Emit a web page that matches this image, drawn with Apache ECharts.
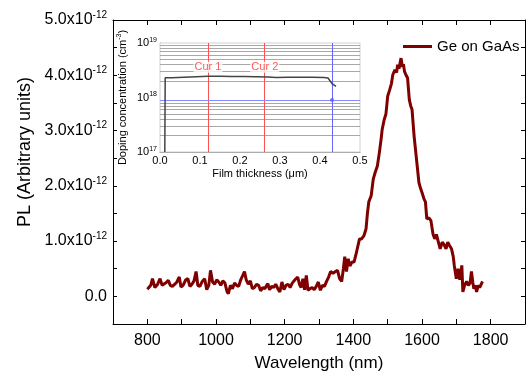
<!DOCTYPE html>
<html><head><meta charset="utf-8">
<script src="https://cdn.jsdelivr.net/npm/echarts@6/dist/echarts.min.js"></script>
<style>html,body{margin:0;padding:0;background:#fff}#c{width:528px;height:377px}</style>
</head><body><div id="c"></div>
<script>
// Main PL spectrum (wavelength in nm, PL in units of 1e-12)
var wavelength = [800,805,810,815,822,830,837,843,848,855,861,867,873,880,886,893,898,904,912,918,924,930,936,942,947,953,960,967,973,979,984,990,996,1002,1008,1014,1020,1026,1032,1036,1042,1048,1054,1060,1066,1072,1078,1083,1088,1094,1100,1106,1112,1118,1124,1130,1136,1142,1151,1156,1162,1168,1174,1180,1186,1192,1198,1204,1210,1216,1222,1230,1238,1243,1248,1253,1258,1263,1268,1274,1280,1286,1292,1298,1304,1310,1316,1322,1328,1334,1341,1348,1354,1360,1366,1371,1375,1380,1385,1390,1396,1402,1407,1412,1418,1424,1431,1437,1441,1445,1452,1458,1464,1470,1476,1481,1484,1490,1495,1500,1506,1511,1515,1521,1526,1529,1533,1536,1539,1543,1546,1549,1553,1558,1563,1567,1571,1577,1582,1585,1591,1596,1600,1606,1610,1614,1620,1626,1632,1637,1642,1647,1653,1659,1664,1670,1675,1680,1686,1691,1694,1700,1705,1710,1716,1719,1724,1730,1735,1740,1744,1748,1751,1755,1759,1764,1768,1774,1776];
var plValues = [0.13,0.11,0.20,0.32,0.16,0.22,0.32,0.20,0.18,0.25,0.29,0.20,0.18,0.22,0.26,0.35,0.17,0.20,0.30,0.32,0.18,0.22,0.28,0.45,0.20,0.18,0.27,0.32,0.12,0.20,0.47,0.26,0.22,0.30,0.26,0.20,0.28,0.24,0.09,0.05,0.20,0.14,0.24,0.20,0.18,0.30,0.38,0.45,0.30,0.22,0.28,0.14,0.16,0.22,0.20,0.10,0.16,0.14,0.23,0.12,0.18,0.16,0.22,0.14,0.08,0.26,0.12,0.20,0.22,0.16,0.24,0.30,0.35,0.22,0.16,0.32,0.12,0.38,0.11,0.14,0.16,0.12,0.18,0.26,0.11,0.20,0.18,0.27,0.35,0.45,0.42,0.45,0.47,0.32,0.27,0.50,0.72,0.45,0.68,0.55,0.62,0.62,0.74,0.74,1.04,1.04,1.10,1.22,1.50,1.71,1.82,2.12,2.25,2.36,2.61,2.85,3.02,3.20,3.30,3.62,3.74,3.85,4.01,4.10,4.05,4.19,4.12,4.22,4.31,4.15,4.20,4.07,4.01,3.95,3.56,3.45,3.38,2.90,2.60,2.42,2.06,1.95,1.88,1.76,1.71,1.40,1.42,1.37,1.13,1.04,1.12,1.00,0.86,0.98,0.94,0.86,0.98,0.92,0.86,0.72,0.56,0.32,0.50,0.30,0.56,0.08,0.20,0.27,0.20,0.24,0.45,0.25,0.14,0.20,0.08,0.20,0.16,0.24,0.27];
var seriesName = 'Ge on GaAs';
var xTickLabels = [800, 1000, 1200, 1400, 1600, 1800];
var yTickLabels = [0, 1, 2, 3, 4, 5];

// Inset: doping profile
var thickness = [0.012,0.013,0.03,0.06,0.09,0.12,0.15,0.18,0.21,0.24,0.27,0.29,0.32,0.35,0.38,0.41,0.42,0.425,0.43,0.435,0.44];
var doping = [1e17,2.3e18,2.3e18,2.35e18,2.4e18,2.45e18,2.45e18,2.42e18,2.42e18,2.4e18,2.38e18,2.33e18,2.36e18,2.35e18,2.35e18,2.33e18,2.28e18,2.1e18,1.8e18,1.7e18,1.6e18];
var cursorX = [0.12, 0.262];
var cursorNames = ['Cur 1', 'Cur 2'];
var cursorLabelY = 3.6e18;
var blueCursor = [0.43, 9e17];

var minorGrid = [];
[1e17, 1e18].forEach(function (d) { for (var k = 2; k <= 9; k++) minorGrid.push(k * d); });

var chart = echarts.init(document.getElementById('c'));
var FONT = 'Liberation Sans, Arial, sans-serif';
var black = '#000';
var supRich = {
  a: { fontSize: 16, fontFamily: FONT, color: black },
  s: { fontSize: 10, fontFamily: FONT, color: black, padding: [0, 0, 10, 0] }
};
var insetRich = {
  b: { fontSize: 11, fontFamily: FONT, color: black },
  s: { fontSize: 7, fontFamily: FONT, color: black, padding: [0, 0, 6, 0] }
};
function isIn(arr, v) { return arr.some(function (t) { return Math.abs(t - v) < 1e-6; }); }
var axLine = { show: true, onZero: false, lineStyle: { color: black, width: 1 } };

chart.setOption({
  animation: false,
  backgroundColor: '#fff',
  textStyle: { fontFamily: FONT },
  grid: [
    { left: 113, right: 3, top: 20, bottom: 52, show: false },
    { left: 160, right: 168, top: 43, bottom: 225, show: true, backgroundColor: '#fff', borderColor: '#d0d0d0', borderWidth: 1, z: 5 }
  ],
  legend: {
    data: [seriesName], left: 403, top: 39, padding: 0, icon: 'rect', itemWidth: 29, itemHeight: 3, itemGap: 5,
    textStyle: { fontSize: 15, color: black, fontFamily: FONT }
  },
  graphic: [{
    type: 'text', x: 25, y: 152, rotation: Math.PI / 2,
    style: { text: 'PL (Arbitrary units)', fontSize: 18, fontFamily: FONT, fill: black, align: 'center', verticalAlign: 'middle' }
  }],
  xAxis: [
    { gridIndex: 0, type: 'value', min: 700, max: 1900, interval: 100, position: 'bottom',
      axisLine: axLine,
      axisTick: { inside: true, length: 5, lineStyle: { color: black } },
      axisLabel: { fontSize: 16, color: black, margin: 9, fontFamily: FONT,
        formatter: function (v) { return isIn(xTickLabels, v) ? String(Math.round(v)) : ''; } },
      splitLine: { show: false },
      name: 'Wavelength (nm)', nameLocation: 'middle', nameGap: 31,
      nameTextStyle: { fontSize: 17, color: black, fontFamily: FONT } },
    { gridIndex: 0, type: 'value', min: 700, max: 1900, interval: 100, position: 'top',
      axisLine: axLine,
      axisTick: { inside: true, length: 5, lineStyle: { color: black } },
      axisLabel: { show: false }, splitLine: { show: false } },
    { gridIndex: 1, type: 'value', min: 0, max: 0.5, interval: 0.1,
      axisLine: { show: true, onZero: false, lineStyle: { color: '#888', width: 1 } },
      axisTick: { show: false },
      axisLabel: { fontSize: 11, color: black, margin: 3, fontFamily: FONT, formatter: function (v) { return v.toFixed(1); } },
      splitLine: { show: false },
      name: 'Film thickness (\u03bcm)', nameLocation: 'middle', nameGap: 16,
      nameTextStyle: { fontSize: 11, color: black, fontFamily: FONT } }
  ],
  yAxis: [
    { gridIndex: 0, type: 'value', min: -0.5, max: 5, interval: 0.5,
      axisLine: axLine,
      axisTick: { inside: true, length: 4, lineStyle: { color: black } },
      axisLabel: { margin: 6, rich: supRich, formatter: function (v) {
        if (!isIn(yTickLabels, v)) return '';
        var t = Math.round(v);
        if (t === 0) return '{a|0.0}';
        return '{a|' + t.toFixed(1) + 'x10}{s|-12}';
      } },
      splitLine: { show: false } },
    { gridIndex: 0, type: 'value', min: -0.5, max: 5, interval: 0.5, position: 'right',
      axisLine: axLine,
      axisTick: { inside: true, length: 4, lineStyle: { color: black } },
      axisLabel: { show: false }, splitLine: { show: false } },
    { gridIndex: 1, type: 'log', logBase: 10, min: 1e17, max: 1e19,
      axisLine: { show: true, onZero: false, lineStyle: { color: '#888', width: 1 } },
      axisTick: { show: false },
      axisLabel: { margin: 3, rich: insetRich, formatter: function (v) {
        return '{b|10}{s|' + Math.round(Math.log10(v)) + '}';
      } },
      splitLine: { show: true, lineStyle: { color: '#999', width: 1 } },
      name: '{n|Doping concentration (cm}{s|-3}{n|)}', nameLocation: 'middle', nameGap: 31, nameRotate: 90,
      nameTextStyle: { rich: { n: { fontSize: 11, color: black, fontFamily: FONT }, s: { fontSize: 7, color: black, fontFamily: FONT, padding: [0, 0, 6, 0] } } } }
  ],
  series: [
    { name: seriesName, type: 'line', xAxisIndex: 0, yAxisIndex: 0, symbol: 'none',
      lineStyle: { color: '#800000', width: 3 }, itemStyle: { color: '#800000' },
      data: wavelength.map(function (w, i) { return [w, plValues[i]]; }) },
    { name: 'grid', type: 'line', xAxisIndex: 2, yAxisIndex: 2, data: [], z: 6, silent: true,
      markLine: { silent: true, symbol: 'none', animation: false, label: { show: false },
        lineStyle: { color: '#a8a8a8', width: 1, type: 'solid' },
        data: minorGrid.map(function (v) { return { yAxis: v }; }) } },
    { name: 'cursor', type: 'scatter', xAxisIndex: 2, yAxisIndex: 2, z: 7, silent: true,
      symbol: 'circle', symbolSize: 4, itemStyle: { color: '#5a5aff' },
      data: [blueCursor],
      markLine: { silent: true, symbol: 'none', animation: false, label: { show: false },
        data: [
          { xAxis: cursorX[0], lineStyle: { color: '#ff5050', width: 1, type: 'solid' } },
          { xAxis: cursorX[1], lineStyle: { color: '#ff5050', width: 1, type: 'solid' } },
          { xAxis: blueCursor[0], lineStyle: { color: '#6666ff', width: 1, type: 'solid' } },
          { yAxis: blueCursor[1], lineStyle: { color: '#8888ff', width: 1, type: 'solid' } }
        ] } },
    { name: 'doping', type: 'line', xAxisIndex: 2, yAxisIndex: 2, z: 8, symbol: 'none',
      lineStyle: { color: '#444', width: 1.5 },
      data: thickness.map(function (t, i) { return [t, doping[i]]; }) },
    { name: 'cursorLabels', type: 'scatter', xAxisIndex: 2, yAxisIndex: 2, z: 9, symbolSize: 0, silent: true,
      data: cursorX.map(function (x, i) { return { value: [x, cursorLabelY], name: cursorNames[i] }; }),
      label: { show: true, position: 'inside', formatter: '{b}', color: '#ff3030', fontSize: 11, fontFamily: FONT,
        backgroundColor: '#fff', padding: [0, 1] } }
  ]
});
</script></body></html>
